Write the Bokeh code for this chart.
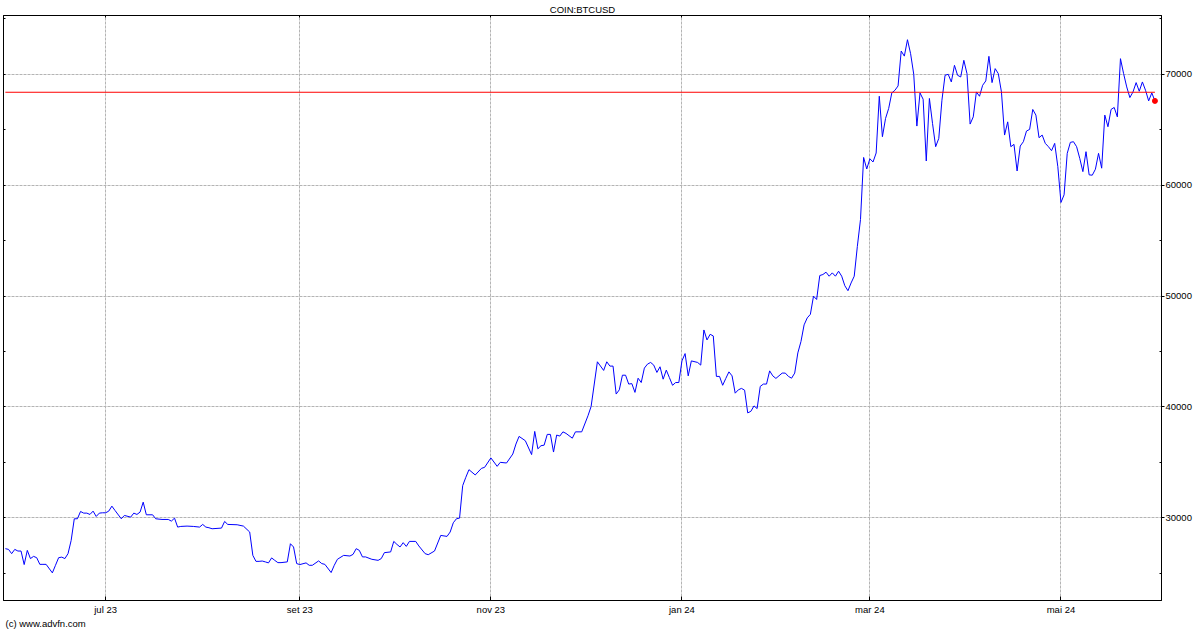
import pandas as pd
from bokeh.plotting import figure
from bokeh.models import LinearAxis, FixedTicker, Range1d, Title
from bokeh.embed import file_html
from bokeh.resources import INLINE

# ---- data ----
start_date = "2023-05-30"
day = [0, 1, 2, 3, 4, 5, 6, 7, 8, 9, 10, 11, 12, 13, 15, 16, 17, 18, 19, 20,
       21, 22, 23, 24, 25, 26, 27, 28, 29, 30, 31, 32, 33, 34, 35, 37, 38, 40, 41, 42,
       43, 44, 45, 47, 48, 50, 52, 53, 54, 55, 56, 58, 60, 62, 63, 64, 65,
       66, 69, 70, 71, 74, 76, 78, 79, 80, 81, 82, 83, 84, 85, 86, 87, 88, 90, 91,
       92, 93, 94, 96, 97, 98, 100, 101, 102, 104, 105, 106, 108, 110, 111, 112, 113,
       114, 115, 117, 119, 120, 121, 123, 124, 125, 126, 127, 128, 129, 131,
       132, 134, 135, 137, 139, 141, 142, 143, 144, 145, 146, 147, 148, 150, 152, 153,
       155, 157, 158, 160, 162, 163, 164, 166,
       168, 169, 170, 171, 172, 173, 174, 175, 176, 177, 178, 179, 181, 182, 184, 186,
       187, 189, 191, 192, 193, 194, 195, 196, 197, 198, 199, 200, 201, 202, 203, 204,
       205, 206, 207, 208, 209, 210, 211, 212, 213, 214, 215, 216, 217, 218, 219, 221,
       222, 223, 224, 225, 226, 227, 228, 229, 230, 231, 232, 233, 234, 235, 236, 237,
       238, 239, 240, 241, 242, 243, 244, 245, 246, 248, 249, 250, 251, 252, 253,
       254, 255, 256, 257, 258, 259, 260, 261, 262, 263, 264, 265, 266, 267, 268, 269,
       270, 271, 272, 273, 274, 275, 276, 277, 278,
       279, 280, 281, 282, 283, 284, 285, 286, 287, 288, 289, 290, 291, 292, 293, 294,
       295, 296, 297, 298, 299, 300, 301, 302, 303, 304, 305, 306, 307, 308, 309, 310,
       311, 312, 313, 314, 315, 316, 317, 318, 319, 320, 321, 322, 323, 324, 325, 326,
       327, 328, 329, 330, 331, 332, 333, 334, 335, 336, 337, 338, 339, 340, 341, 342,
       343, 344, 345, 346, 347, 348, 349, 350, 351, 352, 353, 354, 355, 356, 357, 358,
       359, 360, 361, 362, 363, 364, 365, 366, 367]
price = [27215, 27150, 26765, 27150, 27000, 27000, 25780, 27060, 26320, 26520, 26400, 25800,
         25800, 25800, 25030, 25715, 26400, 26450, 26320, 26765,
         27960, 29910, 29910, 30570, 30420, 30420, 30300, 30600, 30120, 30420, 30450, 30450,
         30600, 31050, 30660, 29910, 30210, 30060, 30420, 30300,
         30510, 31410, 30270, 30270, 29910, 29850, 29850, 29700, 29970, 29160, 29220, 29250,
         29220, 29160, 29400, 29160, 29100,
         29010, 29070, 29670, 29400, 29370, 29250, 28715, 26610, 26070, 26070, 26100, 26020,
         25930, 26380, 26160, 25955, 25955, 26020, 27660,
         27365, 25870, 25780, 25930, 25715, 25715, 26110, 25870, 25800, 25060, 25715, 26255,
         26610, 26550, 26700, 27215, 27060,
         26470, 26470, 26255, 26160, 26320, 26855, 26920, 27870, 27600, 27365, 27755, 27420,
         27870, 27870,
         27460, 26765, 26670, 27000, 28410, 28320, 28715, 29550, 29910, 29970, 32900, 33650,
         34340, 33860, 34460, 34550,
         35400, 34640, 35000, 34940, 35750, 36650, 37340, 36950,
         35700, 37790, 36220, 36500, 36550, 37520, 37520, 35930, 37460, 37370, 37750, 37610,
         37180, 37750, 37750, 39200,
         40040, 44070, 43290, 44070, 43680, 43680, 41160, 41540, 42860, 42860, 42060, 42100,
         41310, 42590, 42200, 43500,
         43860, 44010, 43770, 43110, 43620, 42500, 43320, 42640, 41950, 42200, 42200, 44150,
         44810, 42800, 44150, 44010,
         43770, 46940, 46040, 46550, 46400, 42750, 42750, 41950, 42570, 43160, 42800, 41240,
         41540, 41670, 41510, 39460,
         39600, 40090, 39850, 41850, 42060, 42060, 43250, 42800, 42570, 43050, 43050, 42750,
         42590, 43050, 44870,
         45900, 47400, 48030, 48350, 49990, 49690, 51850, 51940, 52150, 51790, 52090, 51790,
         52240, 51790, 50930, 50480,
         51180, 51790, 54480, 56900, 62500, 61460, 62380, 62090, 62900,
         68020, 64370, 66020, 66920, 68320, 68560, 68950, 72100, 71640, 73120, 71860, 70000,
         65330, 68320, 67750, 62180,
         67820, 65570, 63470, 64220, 67660, 69910, 70000, 69310, 70810, 69910, 69760, 71260,
         70060, 65510, 66160, 68410,
         68020, 69010, 69400, 71620, 69250, 70510, 70060, 68410, 64520, 65710, 63470, 63680,
         61280, 63530, 63920, 64880,
         65030, 66830, 66320, 64280, 64520, 63770, 63470, 63110, 63770, 61670, 58440, 59130,
         62870, 63860, 63920, 63470,
         62420, 61220, 63020, 60930, 60900, 61440, 62870, 61530, 66320, 65270, 66830, 67010,
         66160, 71410, 70060, 68860,
         67900, 68410, 69250, 68470, 69310, 68560, 67600, 68320, 67600]
ref_price = 68380

tick_dates = ["2023-07-01", "2023-09-01", "2023-11-01", "2024-01-01", "2024-03-01", "2024-05-01"]
tick_labels = ["jul 23", "set 23", "nov 23", "jan 24", "mar 24", "mai 24"]
y_ticks = [30000, 40000, 50000, 60000, 70000]
y_minor = [25000, 35000, 45000, 55000, 65000, 75000]
title_text = "COIN:BTCUSD"
footer_text = "(c) www.advfn.com"

# ---- derived ----
start = pd.Timestamp(start_date)
x_ticks = [(pd.Timestamp(d) - start).days for d in tick_dates]

FONT = "Liberation Sans"
FS = "9.5px"

p = figure(width=1200, height=630,
           x_range=Range1d(-0.6, 369.1), y_range=Range1d(22539, 75303),
           y_axis_location="right", output_backend="svg", toolbar_location=None,
           min_border_left=3, min_border_top=15, min_border_right=39, min_border_bottom=28,
           margin=(0, 0, 0, 0))
p.background_fill_color = "white"
p.border_fill_color = "white"
p.outline_line_color = "black"
p.outline_line_width = 1

# title (top centre)
p.title.text = title_text
p.title.align = "center"
p.title.text_font = FONT
p.title.text_font_size = FS
p.title.text_font_style = "normal"
p.title.text_color = "black"
p.title.standoff = 2

# bottom axis
xa = p.xaxis[0]
xa.ticker = FixedTicker(ticks=x_ticks, minor_ticks=[])
xa.major_label_overrides = {t: l for t, l in zip(x_ticks, tick_labels)}
xa.major_tick_in = 4
xa.major_tick_out = 0
xa.minor_tick_in = 0
xa.minor_tick_out = 0
xa.major_label_standoff = 3
xa.major_label_text_font = FONT
xa.major_label_text_font_size = FS
xa.major_label_text_color = "black"
xa.axis_line_color = "black"
xa.major_tick_line_color = "black"

# footer (bottom left)
p.add_layout(Title(text=footer_text, align="left", vertical_align="top",
                   text_font=FONT, text_font_size=FS,
                   text_font_style="normal", text_color="black", offset=2, standoff=0),
             "below")

# right axis (main y)
ya = p.yaxis[0]
ya.ticker = FixedTicker(ticks=y_ticks, minor_ticks=y_minor)
ya.major_label_overrides = {v: str(v) for v in y_ticks}
ya.major_tick_in = 0
ya.major_tick_out = 3
ya.minor_tick_in = 2
ya.minor_tick_out = 0
ya.major_label_standoff = 1
ya.major_label_text_font = FONT
ya.major_label_text_font_size = FS
ya.major_label_text_color = "black"
ya.axis_line_color = "black"
ya.major_tick_line_color = "black"
ya.minor_tick_line_color = "black"

# left axis: ticks only
la = LinearAxis(ticker=FixedTicker(ticks=y_ticks, minor_ticks=y_minor),
                major_tick_in=2, major_tick_out=0, minor_tick_in=2, minor_tick_out=0,
                major_label_text_font_size="0px", major_label_standoff=0,
                axis_line_color="black", major_tick_line_color="black",
                minor_tick_line_color="black")
la.major_label_overrides = {v: "" for v in y_ticks}
p.add_layout(la, "left")

# top axis: ticks only
ta = LinearAxis(ticker=FixedTicker(ticks=x_ticks, minor_ticks=[]),
                major_tick_in=2, major_tick_out=0, minor_tick_in=0, minor_tick_out=0,
                major_label_text_font_size="0px", major_label_standoff=0,
                axis_line_color="black", major_tick_line_color="black")
ta.major_label_overrides = {t: "" for t in x_ticks}
p.add_layout(ta, "above")

# grid
p.xgrid.ticker = FixedTicker(ticks=x_ticks, minor_ticks=[])
p.ygrid.ticker = FixedTicker(ticks=y_ticks, minor_ticks=[])
for g in (p.xgrid, p.ygrid):
    g.grid_line_color = "#b4b4b4"
    g.grid_line_dash = "3 1"
    g.grid_line_width = 1

# series
p.line(day, price, line_color="#0000ff", line_width=1)
p.line([day[0], day[-1]], [ref_price, ref_price], line_color="#ff0000", line_width=1)
p.scatter([day[-1]], [price[-1]], size=5, fill_color="#ff0000", line_color="#ff0000")

open("out.html", "w").write(file_html(p, INLINE))
